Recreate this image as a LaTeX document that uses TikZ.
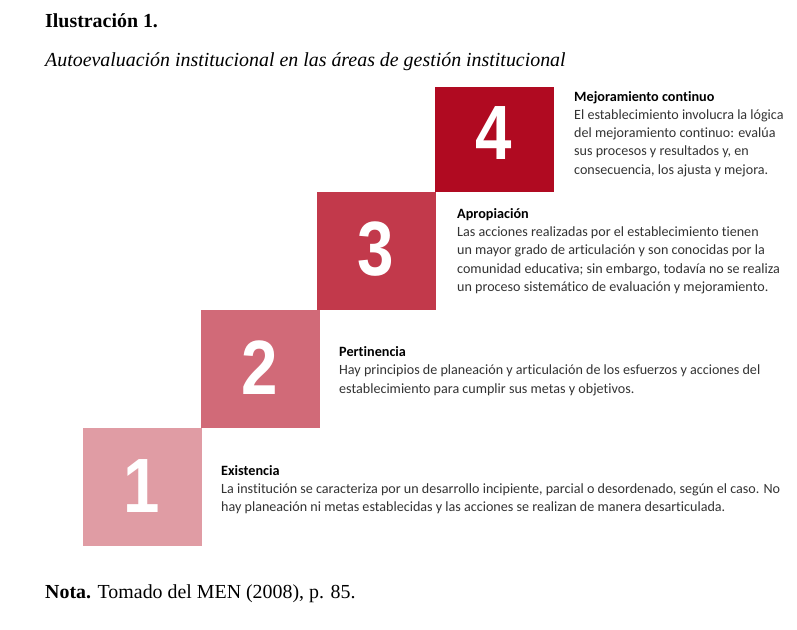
\documentclass[tikz,border=0pt]{standalone}
\usepackage{fontspec}
\usepackage{graphicx}
\setmainfont{Liberation Serif}
\newfontfamily\bodyfont[Ligatures=NoCommon]{Carlito}
\newfontfamily\digitfont{Liberation Sans}
\definecolor{cfour}{HTML}{B00A21}
\definecolor{cthree}{HTML}{C2394B}
\definecolor{ctwo}{HTML}{D16A78}
\definecolor{cone}{HTML}{E09CA4}
\definecolor{txtgray}{HTML}{333333}
\tikzset{
  sq/.style={inner sep=0pt, outer sep=0pt, anchor=north west, minimum width=118.5pt, minimum height=118pt},
  digit/.style={inner sep=0pt, text=white, font=\digitfont\bfseries\fontsize{77}{77}\selectfont},
  ttl/.style={anchor=base west, inner sep=0pt, text=black, font=\bodyfont\bfseries\fontsize{14.2}{16}\selectfont},
  ln/.style={anchor=base west, inner sep=0pt, text=txtgray, font=\bodyfont\fontsize{14.1}{16}\selectfont},
  hdr/.style={anchor=base west, inner sep=0pt, text=black, font=\fontsize{19.9}{22}\selectfont}
}
\begin{document}
\begin{tikzpicture}[x=1pt, y=-1pt]
\useasboundingbox (0,0) rectangle (797,629);
% header
\node[hdr] (h1) at (45,27.5) {\textbf{Ilustración 1.}};
\node[hdr] (h2) at (45,66) {\textit{Autoevaluación institucional en las áreas de gestión institucional}};
\node[hdr] (h3) at (45,598) {\textbf{Nota.} Tomado del MEN (2008), p. 85.};
% squares
\node[sq, fill=cone]   (s1) at (83,428) {};
\node[sq, fill=ctwo]   (s2) at (201,310) {};
\node[sq, fill=cthree] (s3) at (317,192) {};
\node[sq, fill=cfour, minimum height=105pt] (s4) at (435,87) {};
% digits
\node[digit] (d1) at (142,486) {\scalebox{0.85}[1]{1}};
\node[digit] (d2) at (260,368) {\scalebox{0.85}[1]{2}};
\node[digit] (d3) at (376,249) {\scalebox{0.85}[1]{3}};
\node[digit] (d4) at (494,133) {\scalebox{0.85}[1]{4}};
% block 4
\node[ttl] (t4) at (574,101) {Mejoramiento continuo};
\node[ln] (l41) at (574,119.3) {El establecimiento involucra la lógica};
\node[ln] (l42) at (574,137.6) {del mejoramiento continuo: evalúa};
\node[ln] (l43) at (574,155.9) {sus procesos y resultados y, en};
\node[ln] (l44) at (574,174.2) {consecuencia, los ajusta y mejora.};
% block 3
\node[ttl] (t3) at (457,218.3) {Apropiación};
\node[ln] (l31) at (457,236.6) {Las acciones realizadas por el establecimiento tienen};
\node[ln] (l32) at (457,254.9) {un mayor grado de articulación y son conocidas por la};
\node[ln] (l33) at (457,273.2) {comunidad educativa; sin embargo, todavía no se realiza};
\node[ln] (l34) at (457,291.5) {un proceso sistemático de evaluación y mejoramiento.};
% block 2
\node[ttl] (t2) at (339,356.5) {Pertinencia};
\node[ln] (l21) at (339,374.8) {Hay principios de planeación y articulación de los esfuerzos y acciones del};
\node[ln] (l22) at (339,393.1) {establecimiento para cumplir sus metas y objetivos.};
% block 1
\node[ttl] (t1) at (221,475) {Existencia};
\node[ln] (l11) at (221,493.3) {La institución se caracteriza por un desarrollo incipiente, parcial o desordenado, según el caso. No};
\node[ln] (l12) at (221,511.6) {hay planeación ni metas establecidas y las acciones se realizan de manera desarticulada.};
\end{tikzpicture}
\end{document}
